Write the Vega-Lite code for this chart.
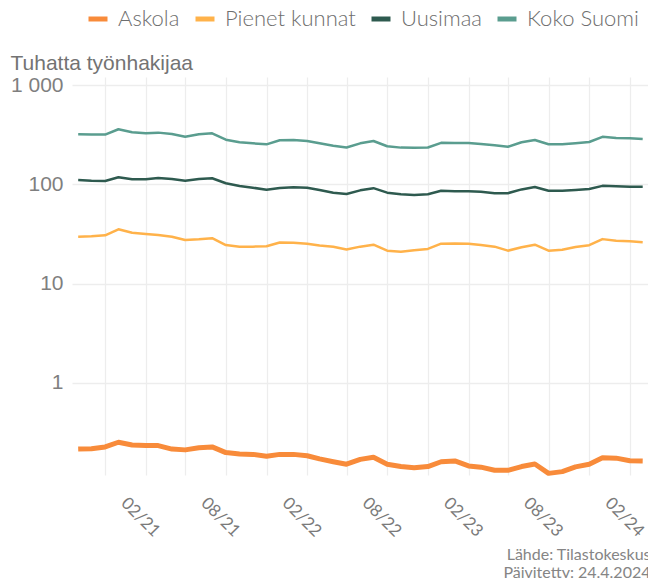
{
  "$schema": "https://vega.github.io/schema/vega-lite/v6.json",
  "width": 576,
  "height": 398,
  "autosize": {"type": "none"},
  "padding": {"left": 72, "top": 77, "right": 0, "bottom": 103},
  "background": "white",
  "config": {
    "view": {"stroke": null},
    "axis": {"grid": true, "gridColor": "#EDEDED", "gridWidth": 1.3, "domain": false, "ticks": false}
  },
  "data": {"values": [
    {"kk":"2020-09-01","alue":"Askola","arvo":0.216},{"kk":"2020-09-01","alue":"Pienet kunnat","arvo":29.7},{"kk":"2020-09-01","alue":"Uusimaa","arvo":110.7},{"kk":"2020-09-01","alue":"Koko Suomi","arvo":320},
    {"kk":"2020-10-01","alue":"Askola","arvo":0.218},{"kk":"2020-10-01","alue":"Pienet kunnat","arvo":30.0},{"kk":"2020-10-01","alue":"Uusimaa","arvo":109},{"kk":"2020-10-01","alue":"Koko Suomi","arvo":317},
    {"kk":"2020-11-01","alue":"Askola","arvo":0.227},{"kk":"2020-11-01","alue":"Pienet kunnat","arvo":30.7},{"kk":"2020-11-01","alue":"Uusimaa","arvo":108.2},{"kk":"2020-11-01","alue":"Koko Suomi","arvo":317},
    {"kk":"2020-12-01","alue":"Askola","arvo":0.253},{"kk":"2020-12-01","alue":"Pienet kunnat","arvo":35.3},{"kk":"2020-12-01","alue":"Uusimaa","arvo":117.9},{"kk":"2020-12-01","alue":"Koko Suomi","arvo":359},
    {"kk":"2021-01-01","alue":"Askola","arvo":0.237},{"kk":"2021-01-01","alue":"Pienet kunnat","arvo":32.6},{"kk":"2021-01-01","alue":"Uusimaa","arvo":112.6},{"kk":"2021-01-01","alue":"Koko Suomi","arvo":335},
    {"kk":"2021-02-01","alue":"Askola","arvo":0.234},{"kk":"2021-02-01","alue":"Pienet kunnat","arvo":31.7},{"kk":"2021-02-01","alue":"Uusimaa","arvo":112.6},{"kk":"2021-02-01","alue":"Koko Suomi","arvo":327},
    {"kk":"2021-03-01","alue":"Askola","arvo":0.234},{"kk":"2021-03-01","alue":"Pienet kunnat","arvo":30.9},{"kk":"2021-03-01","alue":"Uusimaa","arvo":116},{"kk":"2021-03-01","alue":"Koko Suomi","arvo":332},
    {"kk":"2021-04-01","alue":"Askola","arvo":0.216},{"kk":"2021-04-01","alue":"Pienet kunnat","arvo":29.7},{"kk":"2021-04-01","alue":"Uusimaa","arvo":113.3},{"kk":"2021-04-01","alue":"Koko Suomi","arvo":322},
    {"kk":"2021-05-01","alue":"Askola","arvo":0.212},{"kk":"2021-05-01","alue":"Pienet kunnat","arvo":27.5},{"kk":"2021-05-01","alue":"Uusimaa","arvo":109},{"kk":"2021-05-01","alue":"Koko Suomi","arvo":302},
    {"kk":"2021-06-01","alue":"Askola","arvo":0.223},{"kk":"2021-06-01","alue":"Pienet kunnat","arvo":28.0},{"kk":"2021-06-01","alue":"Uusimaa","arvo":113.3},{"kk":"2021-06-01","alue":"Koko Suomi","arvo":320},
    {"kk":"2021-07-01","alue":"Askola","arvo":0.227},{"kk":"2021-07-01","alue":"Pienet kunnat","arvo":28.7},{"kk":"2021-07-01","alue":"Uusimaa","arvo":115.2},{"kk":"2021-07-01","alue":"Koko Suomi","arvo":327},
    {"kk":"2021-08-01","alue":"Askola","arvo":0.199},{"kk":"2021-08-01","alue":"Pienet kunnat","arvo":24.5},{"kk":"2021-08-01","alue":"Uusimaa","arvo":102.6},{"kk":"2021-08-01","alue":"Koko Suomi","arvo":282},
    {"kk":"2021-09-01","alue":"Askola","arvo":0.193},{"kk":"2021-09-01","alue":"Pienet kunnat","arvo":23.6},{"kk":"2021-09-01","alue":"Uusimaa","arvo":96.4},{"kk":"2021-09-01","alue":"Koko Suomi","arvo":266},
    {"kk":"2021-10-01","alue":"Askola","arvo":0.191},{"kk":"2021-10-01","alue":"Pienet kunnat","arvo":23.6},{"kk":"2021-10-01","alue":"Uusimaa","arvo":92.6},{"kk":"2021-10-01","alue":"Koko Suomi","arvo":259},
    {"kk":"2021-11-01","alue":"Askola","arvo":0.183},{"kk":"2021-11-01","alue":"Pienet kunnat","arvo":23.8},{"kk":"2021-11-01","alue":"Uusimaa","arvo":88.4},{"kk":"2021-11-01","alue":"Koko Suomi","arvo":253},
    {"kk":"2021-12-01","alue":"Askola","arvo":0.191},{"kk":"2021-12-01","alue":"Pienet kunnat","arvo":26.0},{"kk":"2021-12-01","alue":"Uusimaa","arvo":92},{"kk":"2021-12-01","alue":"Koko Suomi","arvo":278},
    {"kk":"2022-01-01","alue":"Askola","arvo":0.191},{"kk":"2022-01-01","alue":"Pienet kunnat","arvo":25.9},{"kk":"2022-01-01","alue":"Uusimaa","arvo":93.5},{"kk":"2022-01-01","alue":"Koko Suomi","arvo":280},
    {"kk":"2022-02-01","alue":"Askola","arvo":0.185},{"kk":"2022-02-01","alue":"Pienet kunnat","arvo":25.3},{"kk":"2022-02-01","alue":"Uusimaa","arvo":92.6},{"kk":"2022-02-01","alue":"Koko Suomi","arvo":274},
    {"kk":"2022-03-01","alue":"Askola","arvo":0.172},{"kk":"2022-03-01","alue":"Pienet kunnat","arvo":24.3},{"kk":"2022-03-01","alue":"Uusimaa","arvo":87.8},{"kk":"2022-03-01","alue":"Koko Suomi","arvo":259},
    {"kk":"2022-04-01","alue":"Askola","arvo":0.161},{"kk":"2022-04-01","alue":"Pienet kunnat","arvo":23.5},{"kk":"2022-04-01","alue":"Uusimaa","arvo":82.5},{"kk":"2022-04-01","alue":"Koko Suomi","arvo":245},
    {"kk":"2022-05-01","alue":"Askola","arvo":0.152},{"kk":"2022-05-01","alue":"Pienet kunnat","arvo":22.1},{"kk":"2022-05-01","alue":"Uusimaa","arvo":80.1},{"kk":"2022-05-01","alue":"Koko Suomi","arvo":235},
    {"kk":"2022-06-01","alue":"Askola","arvo":0.170},{"kk":"2022-06-01","alue":"Pienet kunnat","arvo":23.6},{"kk":"2022-06-01","alue":"Uusimaa","arvo":87.1},{"kk":"2022-06-01","alue":"Koko Suomi","arvo":259},
    {"kk":"2022-07-01","alue":"Askola","arvo":0.179},{"kk":"2022-07-01","alue":"Pienet kunnat","arvo":24.7},{"kk":"2022-07-01","alue":"Uusimaa","arvo":91.6},{"kk":"2022-07-01","alue":"Koko Suomi","arvo":273.5},
    {"kk":"2022-08-01","alue":"Askola","arvo":0.152},{"kk":"2022-08-01","alue":"Pienet kunnat","arvo":21.5},{"kk":"2022-08-01","alue":"Uusimaa","arvo":82.5},{"kk":"2022-08-01","alue":"Koko Suomi","arvo":242},
    {"kk":"2022-09-01","alue":"Askola","arvo":0.144},{"kk":"2022-09-01","alue":"Pienet kunnat","arvo":21.0},{"kk":"2022-09-01","alue":"Uusimaa","arvo":79.5},{"kk":"2022-09-01","alue":"Koko Suomi","arvo":234.5},
    {"kk":"2022-10-01","alue":"Askola","arvo":0.140},{"kk":"2022-10-01","alue":"Pienet kunnat","arvo":21.7},{"kk":"2022-10-01","alue":"Uusimaa","arvo":78.2},{"kk":"2022-10-01","alue":"Koko Suomi","arvo":233.5},
    {"kk":"2022-11-01","alue":"Askola","arvo":0.144},{"kk":"2022-11-01","alue":"Pienet kunnat","arvo":22.4},{"kk":"2022-11-01","alue":"Uusimaa","arvo":79.5},{"kk":"2022-11-01","alue":"Koko Suomi","arvo":235},
    {"kk":"2022-12-01","alue":"Askola","arvo":0.161},{"kk":"2022-12-01","alue":"Pienet kunnat","arvo":25.3},{"kk":"2022-12-01","alue":"Uusimaa","arvo":86.1},{"kk":"2022-12-01","alue":"Koko Suomi","arvo":262},
    {"kk":"2023-01-01","alue":"Askola","arvo":0.164},{"kk":"2023-01-01","alue":"Pienet kunnat","arvo":25.4},{"kk":"2023-01-01","alue":"Uusimaa","arvo":85.1},{"kk":"2023-01-01","alue":"Koko Suomi","arvo":261},
    {"kk":"2023-02-01","alue":"Askola","arvo":0.146},{"kk":"2023-02-01","alue":"Pienet kunnat","arvo":25.3},{"kk":"2023-02-01","alue":"Uusimaa","arvo":85.2},{"kk":"2023-02-01","alue":"Koko Suomi","arvo":261},
    {"kk":"2023-03-01","alue":"Askola","arvo":0.142},{"kk":"2023-03-01","alue":"Pienet kunnat","arvo":24.5},{"kk":"2023-03-01","alue":"Uusimaa","arvo":84.4},{"kk":"2023-03-01","alue":"Koko Suomi","arvo":255},
    {"kk":"2023-04-01","alue":"Askola","arvo":0.132},{"kk":"2023-04-01","alue":"Pienet kunnat","arvo":23.6},{"kk":"2023-04-01","alue":"Uusimaa","arvo":81.4},{"kk":"2023-04-01","alue":"Koko Suomi","arvo":248},
    {"kk":"2023-05-01","alue":"Askola","arvo":0.132},{"kk":"2023-05-01","alue":"Pienet kunnat","arvo":21.5},{"kk":"2023-05-01","alue":"Uusimaa","arvo":81.5},{"kk":"2023-05-01","alue":"Koko Suomi","arvo":239},
    {"kk":"2023-06-01","alue":"Askola","arvo":0.144},{"kk":"2023-06-01","alue":"Pienet kunnat","arvo":23.3},{"kk":"2023-06-01","alue":"Uusimaa","arvo":89},{"kk":"2023-06-01","alue":"Koko Suomi","arvo":265.5},
    {"kk":"2023-07-01","alue":"Askola","arvo":0.153},{"kk":"2023-07-01","alue":"Pienet kunnat","arvo":24.7},{"kk":"2023-07-01","alue":"Uusimaa","arvo":94},{"kk":"2023-07-01","alue":"Koko Suomi","arvo":280},
    {"kk":"2023-08-01","alue":"Askola","arvo":0.123},{"kk":"2023-08-01","alue":"Pienet kunnat","arvo":21.5},{"kk":"2023-08-01","alue":"Uusimaa","arvo":86.4},{"kk":"2023-08-01","alue":"Koko Suomi","arvo":253.4},
    {"kk":"2023-09-01","alue":"Askola","arvo":0.128},{"kk":"2023-09-01","alue":"Pienet kunnat","arvo":22.0},{"kk":"2023-09-01","alue":"Uusimaa","arvo":86.4},{"kk":"2023-09-01","alue":"Koko Suomi","arvo":253.4},
    {"kk":"2023-10-01","alue":"Askola","arvo":0.143},{"kk":"2023-10-01","alue":"Pienet kunnat","arvo":23.4},{"kk":"2023-10-01","alue":"Uusimaa","arvo":87.8},{"kk":"2023-10-01","alue":"Koko Suomi","arvo":259.4},
    {"kk":"2023-11-01","alue":"Askola","arvo":0.152},{"kk":"2023-11-01","alue":"Pienet kunnat","arvo":24.4},{"kk":"2023-11-01","alue":"Uusimaa","arvo":89.9},{"kk":"2023-11-01","alue":"Koko Suomi","arvo":267},
    {"kk":"2023-12-01","alue":"Askola","arvo":0.177},{"kk":"2023-12-01","alue":"Pienet kunnat","arvo":28.1},{"kk":"2023-12-01","alue":"Uusimaa","arvo":96.6},{"kk":"2023-12-01","alue":"Koko Suomi","arvo":301},
    {"kk":"2024-01-01","alue":"Askola","arvo":0.175},{"kk":"2024-01-01","alue":"Pienet kunnat","arvo":27.1},{"kk":"2024-01-01","alue":"Uusimaa","arvo":95.7},{"kk":"2024-01-01","alue":"Koko Suomi","arvo":293},
    {"kk":"2024-02-01","alue":"Askola","arvo":0.165},{"kk":"2024-02-01","alue":"Pienet kunnat","arvo":26.7},{"kk":"2024-02-01","alue":"Uusimaa","arvo":94.8},{"kk":"2024-02-01","alue":"Koko Suomi","arvo":291},
    {"kk":"2024-03-01","alue":"Askola","arvo":0.164},{"kk":"2024-03-01","alue":"Pienet kunnat","arvo":26.2},{"kk":"2024-03-01","alue":"Uusimaa","arvo":94.8},{"kk":"2024-03-01","alue":"Koko Suomi","arvo":287}
  ]},
  "mark": {"type": "line", "strokeJoin": "round"},
  "encoding": {
    "x": {
      "field": "kk", "type": "temporal",
      "scale": {"type": "utc", "domain": [{"year": 2020, "month": 8, "date": 18, "utc": true}, {"year": 2024, "month": 3, "date": 13, "utc": true}]},
      "axis": {
        "values": [
          {"year": 2020, "month": 11, "date": 1, "utc": true},
          {"year": 2021, "month": 2, "date": 1, "utc": true},
          {"year": 2021, "month": 5, "date": 1, "utc": true},
          {"year": 2021, "month": 8, "date": 1, "utc": true},
          {"year": 2021, "month": 11, "date": 1, "utc": true},
          {"year": 2022, "month": 2, "date": 1, "utc": true},
          {"year": 2022, "month": 5, "date": 1, "utc": true},
          {"year": 2022, "month": 8, "date": 1, "utc": true},
          {"year": 2022, "month": 11, "date": 1, "utc": true},
          {"year": 2023, "month": 2, "date": 1, "utc": true},
          {"year": 2023, "month": 5, "date": 1, "utc": true},
          {"year": 2023, "month": 8, "date": 1, "utc": true},
          {"year": 2023, "month": 11, "date": 1, "utc": true},
          {"year": 2024, "month": 2, "date": 1, "utc": true}
        ],
        "labelExpr": "(utcmonth(datum.value) == 1 || utcmonth(datum.value) == 7) ? utcFormat(datum.value, '%m/%y') : ''",
        "labelAngle": 45, "labelAlign": "center", "labelBaseline": "middle",
        "labelPadding": 42, "labelOffset": -6,
        "labelFont": "Lato", "labelFontSize": 17, "labelColor": "#7a7a7a",
        "labelOverlap": false, "labelFlush": false,
        "title": ["Lähde: Tilastokeskus", "Päivitetty: 24.4.2024"],
        "titleAnchor": "end", "titleAlign": "right", "titleX": 578, "titleY": 71, "titleBaseline": "top",
        "titleFont": "Lato", "titleFontSize": 16, "titleFontWeight": "normal", "titleColor": "#858585", "titleLineHeight": 18
      }
    },
    "y": {
      "field": "arvo", "type": "quantitative",
      "scale": {"type": "log", "domain": [0.1184, 1206], "nice": false},
      "axis": {
        "values": [1, 10, 100, 1000],
        "labelExpr": "datum.value >= 1000 ? '1 000' : format(datum.value, 'd')",
        "labelFont": "Liberation Sans", "labelFontSize": 21, "labelColor": "#7f7f7f", "labelPadding": 9,
        "title": "Tuhatta työnhakijaa",
        "titleAngle": 0, "titleAlign": "left", "titleAnchor": "start", "titleBaseline": "alphabetic",
        "titleX": -62, "titleY": -8,
        "titleFont": "Liberation Sans", "titleFontSize": 21, "titleFontWeight": "normal", "titleColor": "#737373"
      }
    },
    "color": {
      "field": "alue", "type": "nominal",
      "scale": {"domain": ["Askola", "Pienet kunnat", "Uusimaa", "Koko Suomi"], "range": ["#F88B3A", "#FFB24A", "#2E5A4F", "#5A9D8F"]},
      "legend": {
        "title": null, "orient": "none", "legendX": 14, "legendY": -70, "direction": "horizontal",
        "symbolType": "stroke", "symbolSize": 361, "symbolStrokeWidth": 5,
        "labelFont": "Lato", "labelFontSize": 22, "labelFontWeight": 300, "labelColor": "#6e6e6e",
        "labelOffset": 8, "columnPadding": 5
      }
    },
    "strokeWidth": {"condition": {"test": "datum.alue === 'Askola'", "value": 5}, "value": 2.5}
  }
}
